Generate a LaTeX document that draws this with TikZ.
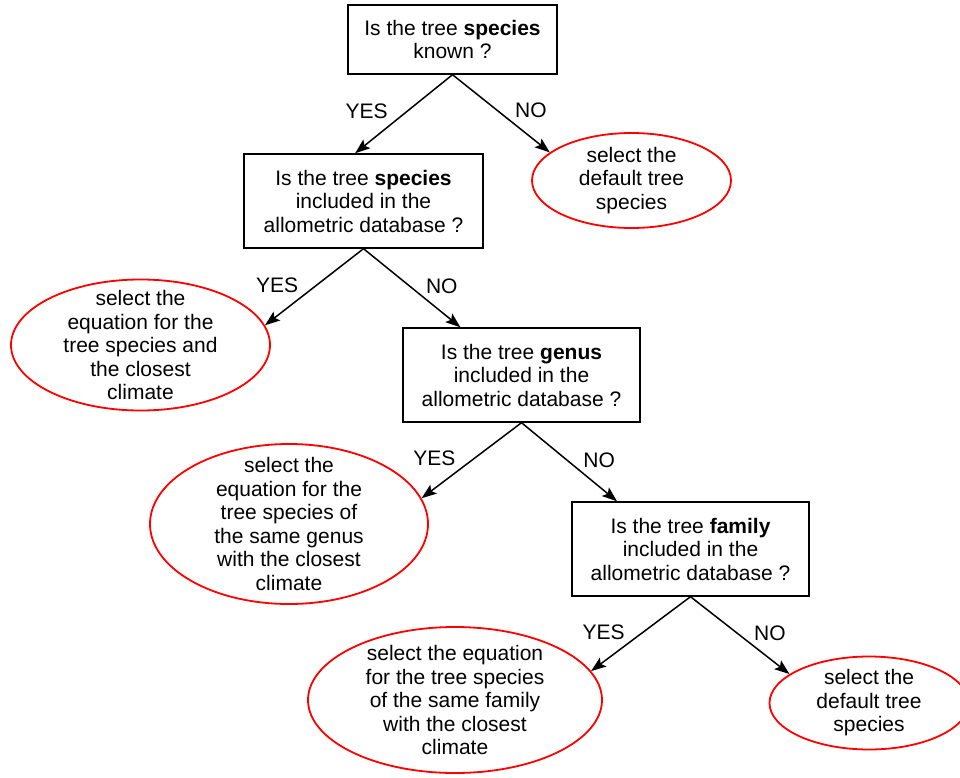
\documentclass[tikz,border=0pt]{standalone}
\usepackage{fontspec}
\setmainfont{Liberation Sans}
\usetikzlibrary{shapes.geometric,arrows.meta}

\tikzset{
	question/.style={draw,line width=1.4pt,align=center,minimum height=94pt,inner sep=0pt},
	choice/.style={ellipse,draw=red,line width=1.8pt,align=center,inner xsep=0pt,inner ysep=-12pt},
	answer/.style={line width=1.5pt,-{Stealth[length=15pt,width=11pt,inset=3pt]}},
}

\begin{document}
\begin{tikzpicture}[x=1pt,y=-1pt,font=\fontsize{21}{23.5}\selectfont]
	\useasboundingbox (0,0) rectangle (960,778);
	% questions
	\node[question,minimum width=209pt,minimum height=69pt] (qknown) at (452.5,39.5) {Is the tree \textbf{species}\\known ?};
	\node[question,minimum width=239pt] (qspecies) at (363.5,201) {Is the tree \textbf{species}\\included in the\\allometric database ?};
	\node[question,minimum width=237pt] (qgenus) at (521.5,375) {Is the tree \textbf{genus}\\included in the\\allometric database ?};
	\node[question,minimum width=237pt] (qfamily) at (690.5,549) {Is the tree \textbf{family}\\included in the\\allometric database ?};
	% choices
	\node[choice,minimum width=199pt,minimum height=95pt] (cdefault) at (631.5,180.5) {select the\\default tree\\species};
	\node[choice,minimum width=259pt,minimum height=131pt] (cspecies) at (140.5,345) {select the\\equation for the\\tree species and\\the closest\\climate};
	\node[choice,minimum width=278pt,minimum height=160pt] (cgenus) at (289,524) {select the\\equation for the\\tree species of\\the same genus\\with the closest\\climate};
	\node[choice,minimum width=294pt,minimum height=146pt] (cfamily) at (455,700) {select the equation\\for the tree species\\of the same family\\with the closest\\climate};
	\node[choice,minimum width=199pt,minimum height=93pt] (clast) at (869,703) {select the\\default tree\\species};
	% answers
	\draw[answer] (qknown.south) -- (qspecies.100) node[midway,left=12pt,yshift=3pt] {YES};
	\draw[answer] (qknown.south) -- (cdefault.161) node[midway,right=10pt,yshift=3pt] {NO};
	\draw[answer] (qspecies.south) -- (cspecies.9) node[midway,left=12pt,yshift=2pt] {YES};
	\draw[answer] (qspecies.south) -- (qgenus.142) node[midway,right=10pt,yshift=2pt] {NO};
	\draw[answer] (qgenus.south) -- (cgenus.11) node[midway,left=12pt,yshift=2pt] {YES};
	\draw[answer] (qgenus.south) -- (qfamily.147) node[midway,right=10pt,yshift=2pt] {NO};
	\draw[answer] (qfamily.south) -- (cfamily.12) node[midway,left=12pt,yshift=2pt] {YES};
	\draw[answer] (qfamily.south) -- (clast.160) node[midway,right=10pt,yshift=2pt] {NO};
\end{tikzpicture}
\end{document}
